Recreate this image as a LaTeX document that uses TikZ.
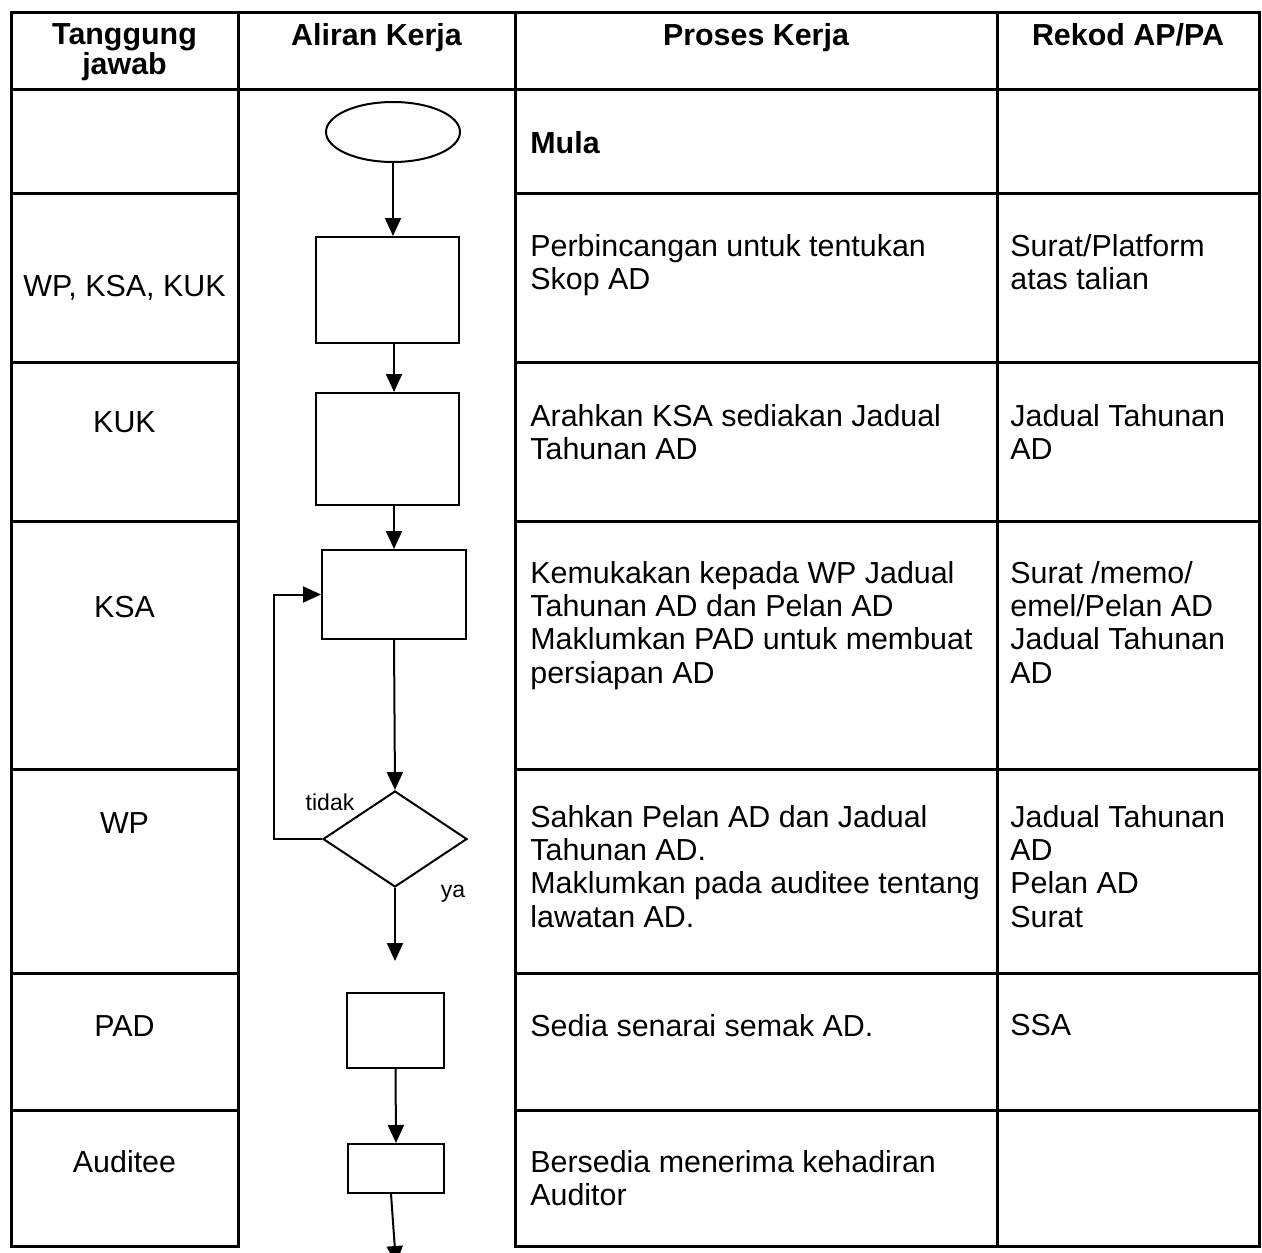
\documentclass[tikz,border=0pt]{standalone}
\usepackage{fontspec}
\setmainfont{Liberation Sans}
\usetikzlibrary{arrows.meta, shapes.geometric, positioning}

\tikzset{
  grid/.style={line width=1.5pt},
  head/.style={anchor=north, align=center, inner sep=0pt,
               font=\fontsize{15.2}{12.5}\selectfont\bfseries},
  role/.style={anchor=base, inner sep=0pt},
  cell/.style={anchor=north west, align=left, inner sep=0pt},
  flowbox/.style={draw, rectangle, line width=1pt, inner sep=0pt},
  flow/.style={-{Triangle[length=9pt, width=8pt]}, line width=1pt},
  tag/.style={anchor=base, inner sep=0pt, font=\fontsize{11.5}{13}\selectfont}
}

\begin{document}
\begin{tikzpicture}[x=0.5pt, y=-0.5pt, font=\fontsize{15.2}{16.6}\selectfont]
  \useasboundingbox (0,0) rectangle (1262,1252);

  % Table frame
  \draw[grid] (11,13) rectangle (238,1246);
  \draw[grid] (515,13) rectangle (1259,1246);
  \draw[grid] (997,13) -- (997,1246);
  \draw[grid] (238,13) -- (515,13);
  \draw[grid] (11,90) -- (1259,90);
  \foreach \r in {193,362,521,769,973,1110} {
    \draw[grid] (11,\r) -- (238,\r);
    \draw[grid] (515,\r) -- (1259,\r);
  }

  % Headers
  \node[head] (hTJ) at (124.5,23) {Tanggung\\jawab};
  \node[head] (hAK) at (376.5,23) {Aliran Kerja};
  \node[head] (hPK) at (756,23)   {Proses Kerja};
  \node[head] (hRK) at (1128,23)  {Rekod AP/PA};

  % Tanggung jawab
  \node[role] (r1) at (124.5,296)  {WP, KSA, KUK};
  \node[role] (r2) at (124.5,432)  {KUK};
  \node[role] (r3) at (124.5,617)  {KSA};
  \node[role] (r4) at (124.5,833)  {WP};
  \node[role] (r5) at (124.5,1036) {PAD};
  \node[role] (r6) at (124.5,1172) {Auditee};

  % Proses Kerja
  \node[cell, font=\fontsize{15.2}{16.6}\selectfont\bfseries] (p0) at (530,131) {Mula};
  \node[cell] (p1) at (530,234)  {Perbincangan untuk tentukan\\Skop AD};
  \node[cell] (p2) at (530,404)  {Arahkan KSA sediakan Jadual\\Tahunan AD};
  \node[cell] (p3) at (530,561)  {Kemukakan kepada WP Jadual\\Tahunan AD dan Pelan AD\\Maklumkan PAD untuk membuat\\persiapan AD};
  \node[cell] (p4) at (530,805)  {Sahkan Pelan AD dan Jadual\\Tahunan AD.\\Maklumkan pada auditee tentang\\lawatan AD.};
  \node[cell] (p5) at (530,1014) {Sedia senarai semak AD.};
  \node[cell] (p6) at (530,1150) {Bersedia menerima kehadiran\\Auditor};

  % Rekod AP/PA
  \node[cell] (k1) at (1010,234)  {Surat/Platform\\atas talian};
  \node[cell] (k2) at (1010,404)  {Jadual Tahunan\\AD};
  \node[cell] (k3) at (1010,561)  {Surat /memo/\\emel/Pelan AD\\Jadual Tahunan\\AD};
  \node[cell] (k4) at (1010,805)  {Jadual Tahunan\\AD\\Pelan AD\\Surat};
  \node[cell] (k5) at (1010,1014) {SSA};

  % Aliran Kerja
  \node[draw, ellipse, line width=1pt, inner sep=0pt,
        minimum width=67pt, minimum height=30pt] (start) at (393,132) {};
  \node[flowbox, minimum width=71.5pt, minimum height=53pt] (b1) at (387.5,290) {};
  \node[flowbox, minimum width=71.5pt, minimum height=56pt] (b2) at (387.5,449) {};
  \node[flowbox, minimum width=72pt, minimum height=44.5pt] (b3) at (394,594.5) {};
  \node[draw, diamond, line width=1pt, inner sep=0pt,
        minimum width=72pt, minimum height=48pt] (dec) at (395,839) {};
  \node[flowbox, minimum width=48.5pt, minimum height=37.5pt] (b5) at (395.5,1030.5) {};
  \node[flowbox, minimum width=48pt, minimum height=24.5pt] (b6) at (396,1168.5) {};
  \coordinate (yaend) at (395,961);
  \coordinate (tail) at (396,1264);

  \draw[flow] (start) -- (start |- b1.north);
  \draw[flow] (b1.south -| b3) -- (b2.north -| b3);
  \draw[flow] (b2.south -| b3) -- (b3.north);
  \draw[flow] (b3.south) -- (dec.north);
  \draw[flow] (dec.south) -- (yaend);
  \draw[flow] (dec.west) -- ++(-48,0) |- (b3.west);
  \draw[flow] (b5.south) -- (b6.north);
  \draw[flow] ([xshift=-2.5pt]b6.south) -- (tail);

  \node[tag] (lno) at (330,810)  {tidak};
  \node[tag] (lya) at (453,897)  {ya};
\end{tikzpicture}
\end{document}
